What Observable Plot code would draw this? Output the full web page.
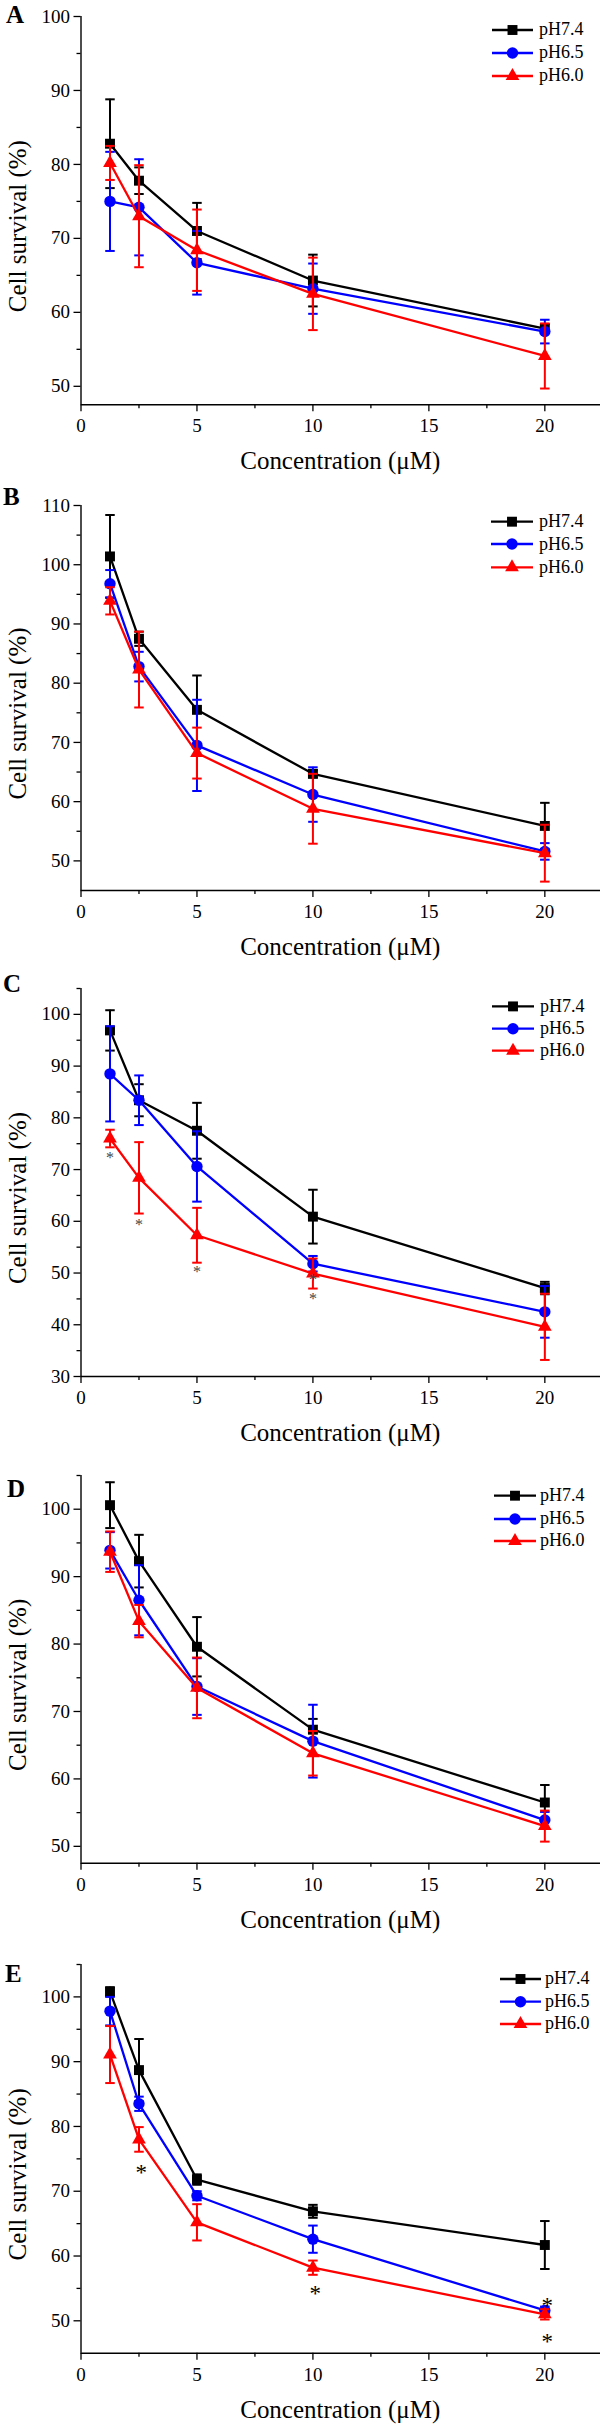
<!DOCTYPE html>
<html><head><meta charset="utf-8">
<script src="https://cdn.jsdelivr.net/npm/d3@7"></script>
<script src="https://cdn.jsdelivr.net/npm/@observablehq/plot@0.6"></script>
<style>
body{margin:0;background:#fff;}
#root{position:relative;width:600px;height:2427px;overflow:hidden;background:#fff;}
.panel{position:absolute;left:0;}
</style></head><body><div id="root"></div>
<script>
// ---------- data ----------
const concentrations = [1.25, 2.5, 5, 10, 20];
const seriesNames = ["pH7.4", "pH6.5", "pH6.0"];
const seriesColors = ["#000000", "#0000ff", "#ff0000"];
const seriesSymbols = ["square", "circle", "triangle"];
const panelLabels = ["A", "B", "C", "D", "E"];
const xTicks = [0, 5, 10, 15, 20];
const xMinorTicks = [2.5, 7.5, 12.5, 17.5];

// Panel A
const meanA74 = [82.8, 77.8, 71.0, 64.3, 57.8];
const sdA74   = [6.0, 1.8, 3.8, 3.5, 0.6];
const meanA65 = [75.0, 74.2, 66.7, 63.2, 57.4];
const sdA65   = [6.7, 6.5, 4.3, 3.4, 1.6];
const meanA60 = [80.2, 73.0, 68.4, 62.5, 54.1];
const sdA60   = [2.3, 6.9, 5.5, 4.9, 4.4];
const yDomainA = [47.5, 100];
const yTicksA = [50, 60, 70, 80, 90, 100];
const yMinorA = [55, 65, 75, 85, 95];

// Panel B
const meanB74 = [101.4, 87.5, 75.5, 64.7, 55.9];
const sdB74   = [7.0, 1.2, 5.8, 0.6, 3.9];
const meanB65 = [96.8, 82.8, 69.5, 61.2, 51.6];
const sdB65   = [2.3, 2.5, 7.7, 4.6, 1.4];
const meanB60 = [93.9, 82.3, 68.2, 58.8, 51.3];
const sdB60   = [2.3, 6.4, 4.3, 5.9, 4.8];
const yDomainB = [45, 110];
const yTicksB = [50, 60, 70, 80, 90, 100, 110];
const yMinorB = [55, 65, 75, 85, 95, 105];

// Panel C
const meanC74 = [96.9, 83.4, 77.5, 60.9, 47.1];
const sdC74   = [3.9, 3.1, 5.4, 5.2, 1.2];
const meanC65 = [88.5, 83.4, 70.6, 51.8, 42.5];
const sdC65   = [9.2, 4.8, 6.8, 1.5, 5.0];
const meanC60 = [76.0, 68.4, 57.3, 49.9, 39.6];
const sdC60   = [1.7, 6.9, 5.3, 2.9, 6.4];
const yDomainC = [30, 105];
const yTicksC = [30, 40, 50, 60, 70, 80, 90, 100];
const yMinorC = [35, 45, 55, 65, 75, 85, 95, 105];
const starsCx = [1.25, 2.5, 5, 10, 10];
const starsCy = [72.8, 60.0, 50.9, 49.2, 45.7];

// Panel D
const meanD74 = [100.6, 92.3, 79.6, 67.3, 56.5];
const sdD74   = [3.4, 3.9, 4.4, 1.6, 2.6];
const meanD65 = [93.9, 86.5, 73.7, 65.6, 53.9];
const sdD65   = [2.7, 5.2, 4.2, 5.4, 1.2];
const meanD60 = [93.7, 83.4, 73.5, 63.8, 53.0];
const sdD60   = [3.0, 2.4, 4.5, 3.3, 2.3];
const yDomainD = [47.5, 105];
const yTicksD = [50, 60, 70, 80, 90, 100];
const yMinorD = [55, 65, 75, 85, 95, 105];

// Panel E
const meanE74 = [100.8, 88.7, 71.8, 66.9, 61.7];
const sdE74   = [0.7, 4.8, 0.8, 1.0, 3.7];
const meanE65 = [97.8, 83.5, 69.3, 62.6, 51.6];
const sdE65   = [2.2, 1.1, 0.7, 2.1, 0.6];
const meanE60 = [91.1, 78.0, 65.2, 58.2, 51.0];
const sdE60   = [4.4, 1.9, 2.8, 1.1, 0.8];
const yDomainE = [45, 105];
const yTicksE = [50, 60, 70, 80, 90, 100];
const yMinorE = [55, 65, 75, 85, 95, 105];
const starsEx = [2.6, 10.1, 20.1, 20.1];
const starsEy = [73.6, 54.9, 53.1, 47.5];

// ---------- layout ----------
const FONT = '"Liberation Serif", "Times New Roman", serif';
const panels = [
  {label: "A", means: [meanA74, meanA65, meanA60], sds: [sdA74, sdA65, sdA60], yDomain: yDomainA, yTicks: yTicksA, yMinor: yMinorA,
   top: 0, plotH: 388.3, legend: {x1: 492, x2: 533, tx: 539, y: [14, 37, 60]}, letter: {x: 6, y: 23}},
  {label: "B", means: [meanB74, meanB65, meanB60], sds: [sdB74, sdB65, sdB60], yDomain: yDomainB, yTicks: yTicksB, yMinor: yMinorB,
   top: 489, plotH: 385, legend: {x1: 491, x2: 533, tx: 539, y: [16.7, 39, 62.3]}, letter: {x: 3, y: 16}},
  {label: "C", means: [meanC74, meanC65, meanC60], sds: [sdC74, sdC65, sdC60], yDomain: yDomainC, yTicks: yTicksC, yMinor: yMinorC,
   top: 972.3, plotH: 388, legend: {x1: 492, x2: 534, tx: 540, y: [18.4, 40.7, 62.7]}, letter: {x: 3, y: 19.7},
   stars: {x: starsCx, y: starsCy, size: 16, color: "#444444"}},
  {label: "D", means: [meanD74, meanD65, meanD60], sds: [sdD74, sdD65, sdD60], yDomain: yDomainD, yTicks: yTicksD, yMinor: yMinorD,
   top: 1459, plotH: 387.7, legend: {x1: 494, x2: 536, tx: 540, y: [20.7, 44, 66]}, letter: {x: 7, y: 38}},
  {label: "E", means: [meanE74, meanE65, meanE60], sds: [sdE74, sdE65, sdE60], yDomain: yDomainE, yTicks: yTicksE, yMinor: yMinorE,
   top: 1948, plotH: 388.7, legend: {x1: 500, x2: 541, tx: 545, y: [15, 37.7, 60]}, letter: {x: 5, y: 34},
   stars: {x: starsEx, y: starsEy, size: 23, color: "#000000"}}
];

const MT = 16, MB = 80, ML = 80.5;
const capSymbol = {draw(ctx, size) { const w = Math.sqrt(size); ctx.moveTo(-w / 2, 0); ctx.lineTo(w / 2, 0); }};
const markerR = {square: 5.6, circle: 5.7, triangle: 5.1};

const root = document.getElementById("root");

panels.forEach((p) => {
  const marks = [];
  // axes
  marks.push(Plot.ruleY([p.yDomain[0]], {stroke: "#000", strokeWidth: 1.4}));
  marks.push(Plot.ruleX([0], {stroke: "#000", strokeWidth: 1.4}));
  marks.push(Plot.axisX(xTicks, {tickSize: 7, tickPadding: 7, strokeWidth: 1.3, fontSize: 19, label: null}));
  marks.push(Plot.axisX(xMinorTicks, {tickSize: 4, strokeWidth: 1.3, tickFormat: () => "", label: null}));
  marks.push(Plot.axisY(p.yTicks, {tickSize: 7, tickPadding: 4, strokeWidth: 1.3, fontSize: 19, label: null}));
  marks.push(Plot.axisY(p.yMinor, {tickSize: 4, strokeWidth: 1.3, tickFormat: () => "", label: null}));

  // series
  p.means.forEach((means, si) => {
    const rows = concentrations.map((c, i) => ({c, m: means[i], s: p.sds[si][i]}));
    const color = seriesColors[si];
    marks.push(Plot.line(rows, {x: "c", y: "m", stroke: color, strokeWidth: 2.3}));
    marks.push(Plot.ruleX(rows, {x: "c", y1: d => d.m - d.s, y2: d => d.m + d.s, stroke: color, strokeWidth: 2}));
    marks.push(Plot.dot(rows, {x: "c", y: d => d.m + d.s, symbol: capSymbol, r: 9.5 / Math.sqrt(Math.PI), stroke: color, fill: "none", strokeWidth: 2}));
    marks.push(Plot.dot(rows, {x: "c", y: d => d.m - d.s, symbol: capSymbol, r: 9.5 / Math.sqrt(Math.PI), stroke: color, fill: "none", strokeWidth: 2}));
    marks.push(Plot.dot(rows, {x: "c", y: "m", symbol: seriesSymbols[si], r: markerR[seriesSymbols[si]], fill: color, stroke: "none"}));
  });

  if (p.stars) {
    const st = p.stars.x.map((x, i) => ({x, y: p.stars.y[i]}));
    marks.push(Plot.text(st, {x: "x", y: "y", text: () => "*", fontSize: p.stars.size, fill: p.stars.color, dy: p.stars.size * 0.2}));
  }

  const svgEl = Plot.plot({
    width: 600,
    height: MT + p.plotH + MB,
    marginTop: MT, marginBottom: MB, marginLeft: ML, marginRight: 0,
    style: {fontFamily: FONT, color: "#000", background: "transparent", overflow: "visible"},
    x: {domain: [0, 22.4]},
    y: {domain: p.yDomain},
    marks
  });

  const svg = d3.select(svgEl);
  const plotBottom = MT + p.plotH;
  // x title
  svg.append("text").attr("x", (ML + 600) / 2).attr("y", plotBottom + 65)
    .attr("text-anchor", "middle").attr("font-size", 25).attr("font-family", FONT).attr("fill", "#000")
    .text("Concentration (μM)");
  // y title
  svg.append("text").attr("transform", `translate(26,${MT + p.plotH / 2 + 16}) rotate(-90)`)
    .attr("text-anchor", "middle").attr("font-size", 25).attr("font-family", FONT).attr("fill", "#000")
    .text("Cell survival (%)");
  // panel letter
  svg.append("text").attr("x", p.letter.x).attr("y", p.letter.y)
    .attr("text-anchor", "start").attr("font-size", 25).attr("font-weight", "bold").attr("font-family", FONT).attr("fill", "#000")
    .text(p.label);
  // legend
  const lg = svg.append("g");
  seriesNames.forEach((name, si) => {
    const y = MT + p.legend.y[si];
    const color = seriesColors[si];
    lg.append("line").attr("x1", p.legend.x1).attr("x2", p.legend.x2).attr("y1", y).attr("y2", y)
      .attr("stroke", color).attr("stroke-width", 2.3);
    const symType = {square: d3.symbolSquare, circle: d3.symbolCircle, triangle: d3.symbolTriangle}[seriesSymbols[si]];
    const r = markerR[seriesSymbols[si]];
    lg.append("path").attr("d", d3.symbol(symType, Math.PI * r * r)())
      .attr("transform", `translate(${(p.legend.x1 + p.legend.x2) / 2},${y})`).attr("fill", color);
    lg.append("text").attr("x", p.legend.tx).attr("y", y + 5.5).attr("text-anchor", "start")
      .attr("font-size", 18).attr("font-family", FONT).attr("fill", "#000").text(name);
  });

  const div = document.createElement("div");
  div.className = "panel";
  div.style.top = p.top + "px";
  div.appendChild(svgEl);
  root.appendChild(div);
});
</script>
</body></html>
